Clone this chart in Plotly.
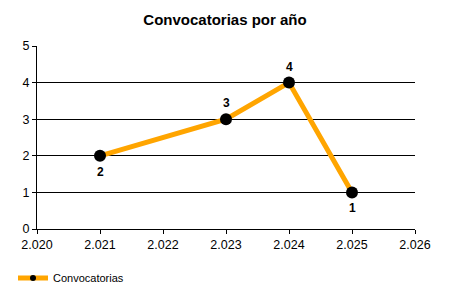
import plotly.graph_objects as go

years = [2021, 2023, 2024, 2025]
counts = [2, 3, 4, 1]
label_side = [-1, 1, 1, -1]  # -1 below, +1 above
series_name = "Convocatorias"
title = "Convocatorias por año"

FONT = "Liberation Sans, Arial"

fig = go.Figure()
fig.add_trace(go.Scatter(
    x=years, y=counts, name=series_name,
    mode="lines+markers",
    line=dict(color="#FFA500", width=5),
    marker=dict(color="black", size=12),
    showlegend=False,
    cliponaxis=False,
))
# legend-only entry with a small marker, like the reference
fig.add_trace(go.Scatter(
    x=[None], y=[None], name=series_name,
    mode="lines+markers",
    line=dict(color="#FFA500", width=5),
    marker=dict(color="black", size=6),
))

for x, y, s in zip(years, counts, label_side):
    fig.add_annotation(x=x, y=y, text="<b>%d</b>" % y, showarrow=False,
                       yshift=16 * s, yanchor="middle", xanchor="center",
                       font=dict(family=FONT, size=12, color="black"))

fig.update_layout(
    width=450, height=300,
    margin=dict(l=37, r=35, t=46, b=71),
    paper_bgcolor="white", plot_bgcolor="white",
    separators=",.",
    title=dict(text="<b>" + title + "</b>", x=0.5, xanchor="center", y=1 - 20 / 300, yanchor="middle",
               xref="container", yref="container",
               font=dict(family=FONT, size=15, color="black")),
    font=dict(family=FONT, size=12, color="black"),
    showlegend=True,
    legend=dict(orientation="h", xref="container", yref="container", x=13 / 450, y=1 - 278 / 300,
                xanchor="left", yanchor="middle", font=dict(size=11), itemwidth=30),
    xaxis=dict(range=[2020, 2026], dtick=1, tick0=2020, tickformat=",d", showgrid=False,
               showline=True, linecolor="black", linewidth=1, ticks="outside", ticklen=4,
               tickcolor="black", zeroline=False, fixedrange=True, tickfont=dict(size=12.5)),
    yaxis=dict(range=[0, 5], dtick=1, showgrid=True, gridcolor="black", gridwidth=1,
               showline=True, linecolor="black", linewidth=1, ticks="outside", ticklen=4,
               tickcolor="black", zeroline=False, tickfont=dict(size=12.5)),
)

fig.write_html("out.html")
